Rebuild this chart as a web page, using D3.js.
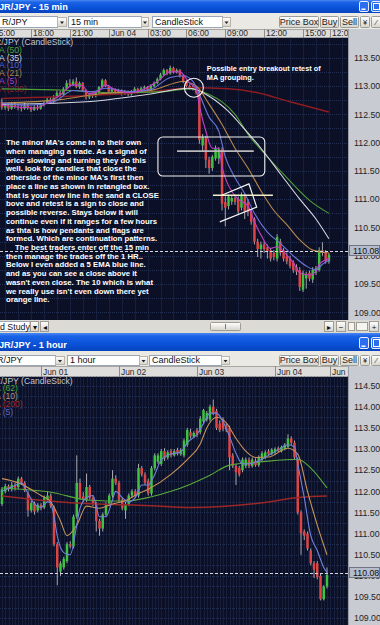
<!DOCTYPE html>
<html><head><meta charset="utf-8">
<script src="https://cdn.jsdelivr.net/npm/d3@7"></script>
<style>html,body{margin:0;padding:0;background:#d4d0c8;overflow:hidden}svg{display:block}</style>
</head><body><svg id="c" width="380" height="625"></svg>
<script>
// ---------------- DATA ----------------
// 15-min chart candles [open, high, low, close], starting Jun 03 15:45
const topCandles = [
[112.72,112.78,112.58,112.62],[112.62,112.70,112.58,112.66],[112.66,112.70,112.56,112.60],[112.60,112.72,112.58,112.68],
[112.68,112.72,112.60,112.64],[112.64,112.68,112.57,112.62],[112.62,112.66,112.55,112.60],[112.60,112.70,112.58,112.65],
[112.65,112.68,112.58,112.62],[112.62,112.64,112.54,112.58],[112.58,112.66,112.56,112.63],[112.63,112.67,112.57,112.60],
[112.60,112.70,112.58,112.66],[112.66,112.74,112.64,112.70],[112.70,112.80,112.68,112.76],[112.76,112.80,112.68,112.72],
[112.72,112.84,112.70,112.80],[112.80,112.92,112.78,112.88],[112.88,112.92,112.80,112.85],[112.85,112.98,112.83,112.95],
[112.95,113.10,112.92,113.05],[113.05,113.12,112.98,113.02],[113.02,113.12,113.00,113.08],[113.08,113.15,112.96,112.98],
[112.98,113.08,112.95,113.05],[113.05,113.07,112.90,112.92],[112.92,112.94,112.76,112.80],[112.80,112.88,112.77,112.85],
[112.85,112.88,112.79,112.82],[112.82,112.90,112.80,112.88],[112.88,113.00,112.86,112.98],[112.98,113.13,112.96,113.10],
[113.10,113.12,112.98,113.00],[113.00,113.02,112.88,112.90],[112.90,112.97,112.87,112.94],[112.94,112.96,112.85,112.88],
[112.88,112.95,112.86,112.92],[112.92,112.94,112.83,112.86],[112.86,112.93,112.84,112.90],[112.90,112.92,112.82,112.85],
[112.85,112.93,112.83,112.90],[112.90,112.98,112.88,112.95],[112.95,112.97,112.87,112.90],[112.90,112.99,112.88,112.96],
[112.96,113.01,112.93,112.98],[112.98,113.00,112.90,112.93],[112.93,113.03,112.91,113.00],[113.00,113.08,112.98,113.05],
[113.05,113.15,113.03,113.12],[113.12,113.23,113.10,113.20],[113.20,113.31,113.18,113.28],[113.28,113.30,113.19,113.22],
[113.22,113.36,113.20,113.32],[113.32,113.34,113.22,113.25],[113.25,113.31,113.22,113.28],[113.28,113.30,113.15,113.18],
[113.18,113.20,113.05,113.08],[113.08,113.10,112.97,113.00],[113.00,113.03,112.93,112.96],[112.96,113.02,112.92,112.98],
[112.98,113.00,112.85,112.88],[112.88,112.90,111.98,112.05],[111.95,112.15,111.85,112.10],[112.08,112.12,111.55,111.70],
[111.70,111.75,111.45,111.55],[111.55,111.78,111.50,111.75],[111.72,111.95,111.68,111.90],[111.72,111.92,111.62,111.88],
[111.88,111.92,110.80,110.92],[110.95,111.05,110.52,110.85],[110.88,111.08,110.82,111.05],[110.96,111.06,110.90,111.02],
[111.02,111.08,110.90,110.95],[111.00,111.05,110.72,110.78],[110.85,111.12,110.80,111.08],[111.05,111.10,110.65,110.78],
[110.95,111.00,110.70,110.77],[110.77,110.82,110.55,110.60],[110.65,110.68,110.20,110.25],[110.25,110.30,109.98,110.12],
[110.12,110.25,109.95,110.20],[110.20,110.26,110.05,110.12],[110.15,110.20,109.95,110.08],[110.10,110.14,109.90,109.95],
[110.05,110.10,109.92,109.98],[109.95,110.38,109.90,110.33],[110.25,110.30,110.00,110.05],[110.10,110.14,109.90,109.95],
[110.00,110.06,109.85,109.90],[109.95,110.00,109.78,109.82],[109.88,109.92,109.70,109.75],[109.80,109.85,109.66,109.72],
[109.75,109.80,109.38,109.45],[109.40,109.74,109.36,109.70],[109.60,109.72,109.42,109.68],[109.70,109.74,109.55,109.60],
[109.58,109.80,109.52,109.75],[109.70,109.82,109.66,109.78],[109.75,110.15,109.72,110.10],[110.10,110.24,110.00,110.05],
[110.05,110.10,109.86,109.90],[109.90,110.05,109.86,110.02]
];
// moving averages of the 15-min chart: [candle index, price]
const topMA200 = [[0,112.78],[30,112.84],[46,112.90],[59,112.97],[70,112.95],[79,112.88],[89,112.72],[101,112.54]];
const topMA50 = [[0,112.95],[18,112.93],[36,112.88],[50,112.90],[58,112.95],[64,112.85],[68,112.72],[72,112.50],[76,112.15],[82,111.75],[88,111.38],[95,110.98],[101,110.75]];
const topMA35 = [[0,112.68],[18,112.70],[30,112.74],[46,112.86],[58,112.96],[64,112.82],[70,112.55],[74,112.30],[80,111.90],[86,111.45],[92,111.00],[97,110.65],[101,110.30]];
const topMA21 = [[0,112.70],[18,112.76],[30,112.86],[46,112.92],[56,113.08],[60,113.00],[64,112.68],[68,112.32],[72,111.90],[76,111.55],[80,111.15],[84,110.80],[88,110.55],[92,110.28],[96,110.10],[101,110.05]];
const topMA10 = [[0,112.70],[8,112.66],[16,112.72],[22,112.92],[28,112.90],[32,112.96],[40,112.90],[46,112.94],[52,113.15],[56,113.18],[59,113.08],[61,112.85],[64,112.45],[67,112.20],[69,111.75],[72,111.38],[75,111.10],[78,110.75],[82,110.42],[86,110.22],[90,110.00],[94,109.82],[97,109.75],[99,109.85],[101,109.92]];
const topMA5 = [[0,112.66],[5,112.63],[10,112.61],[14,112.70],[18,112.84],[22,113.02],[25,113.00],[27,112.86],[30,112.92],[32,113.02],[35,112.93],[40,112.88],[44,112.95],[48,113.08],[52,113.25],[55,113.25],[58,113.05],[60,112.95],[61,112.65],[63,112.20],[65,111.90],[67,111.90],[68,111.57],[70,111.24],[73,111.00],[76,110.88],[78,110.60],[80,110.37],[83,110.13],[85,110.16],[88,110.01],[90,109.88],[92,109.70],[95,109.66],[97,109.72],[98,109.85],[101,109.95]];
const topTickLabels = ["15:00","18:00","21:00","Jun 04","03:00","06:00","09:00","12:00","15:00","12:00"];
const topTickTimes = [[2007,5,3,15,0],[2007,5,3,18,0],[2007,5,3,21,0],[2007,5,4,0,0],[2007,5,4,3,0],[2007,5,4,6,0],[2007,5,4,9,0],[2007,5,4,12,0],[2007,5,4,15,0],[2007,5,4,17,5]];
const topPriceTicks = [113.5,113.0,112.5,112.0,111.5,111.0,110.5,110.0,109.5,109.0];

// 1-hour chart candles [open, high, low, close], starting May 31 12:00
const botCandles = [
[111.70,112.10,111.65,112.05],[112.00,112.18,111.95,112.12],[112.12,112.16,112.00,112.05],[112.05,112.22,112.00,112.15],
[112.15,112.20,112.02,112.08],[112.10,112.35,112.05,112.30],[112.30,112.34,112.15,112.20],[112.20,112.24,111.98,112.02],
[111.95,112.00,111.40,111.55],[111.55,111.78,111.50,111.72],[111.72,111.76,111.45,111.52],[111.55,111.72,111.50,111.68],
[111.68,111.72,111.55,111.60],[111.62,111.90,111.58,111.85],[111.80,112.00,111.76,111.90],[111.90,111.95,111.60,111.65],
[111.60,111.66,110.70,110.75],[110.75,110.80,109.78,110.20],[110.10,110.35,110.00,110.30],[110.20,110.45,110.15,110.40],
[110.35,110.80,110.30,110.75],[110.75,110.82,110.65,110.70],[110.70,111.45,110.65,111.40],[111.40,112.85,111.35,112.20],
[112.20,112.30,111.80,111.85],[111.88,111.98,111.75,111.80],[111.80,112.42,111.75,112.10],[112.10,112.15,111.80,111.85],
[111.85,111.90,111.65,111.70],[111.70,111.75,111.05,111.30],[111.30,111.35,110.95,111.12],[111.12,111.50,111.05,111.45],
[111.45,111.75,111.40,111.70],[111.70,111.95,111.65,111.90],[111.90,112.50,111.85,112.30],[112.30,112.38,112.15,112.20],
[112.20,112.25,111.75,111.80],[111.80,111.85,111.55,111.60],[111.55,111.75,111.35,111.70],[111.70,111.95,111.65,111.90],
[111.90,112.05,111.85,112.00],[112.00,112.05,111.85,111.90],[111.90,112.65,111.85,112.55],[112.55,112.60,112.35,112.40],
[112.40,112.45,112.15,112.20],[112.25,112.30,111.90,111.95],[111.95,112.60,111.90,112.55],[112.55,112.90,112.50,112.85],
[112.70,112.90,112.65,112.85],[112.65,113.00,112.60,112.95],[112.95,113.02,112.72,112.78],[112.80,112.97,112.75,112.92],
[112.95,113.00,112.80,112.85],[112.85,113.00,112.82,112.95],[112.98,113.03,112.85,112.90],[112.88,113.02,112.84,112.98],
[112.85,113.25,112.80,113.20],[113.10,113.50,113.05,113.45],[113.40,113.48,113.25,113.30],[113.30,113.42,113.26,113.38],
[113.45,113.50,113.28,113.33],[113.40,113.78,113.35,113.72],[113.65,113.95,113.60,113.92],[113.70,113.90,113.65,113.85],
[113.70,114.05,113.65,114.00],[114.00,114.17,113.80,113.85],[113.90,113.95,113.45,113.50],[113.60,113.68,113.40,113.45],
[113.70,113.75,113.42,113.48],[113.55,113.60,113.40,113.45],[113.50,113.55,112.50,112.80],[112.85,112.90,112.55,112.60],
[112.60,112.65,112.15,112.45],[112.55,112.60,112.35,112.40],[112.50,112.80,112.45,112.75],[112.60,112.80,112.55,112.75],
[112.75,112.80,112.55,112.60],[112.60,112.80,112.56,112.75],[112.72,112.78,112.58,112.62],[112.62,112.85,112.58,112.80],
[112.75,112.95,112.70,112.90],[112.80,112.97,112.76,112.92],[112.95,113.00,112.84,112.88],[112.88,113.02,112.85,112.98],
[112.92,113.04,112.88,113.00],[113.02,113.06,112.92,112.95],[112.95,113.08,112.92,113.05],[113.00,113.14,112.97,113.10],
[113.05,113.35,113.02,113.25],[113.25,113.30,113.10,113.15],[113.15,113.20,112.75,112.80],[112.75,112.80,111.45,111.50],
[111.50,111.55,110.50,111.00],[111.05,111.10,110.85,110.95],[111.00,111.05,110.60,110.65],[110.60,110.65,110.25,110.30],
[110.30,110.35,109.95,110.15],[110.30,110.35,109.92,109.97],[110.00,110.05,109.42,109.45],[109.45,109.78,109.42,109.75],
[109.75,110.20,109.70,110.02]
];
const botMA200 = [[0,111.89],[18,111.75],[38,111.68],[46,111.66],[58,111.62],[79,111.72],[92,111.86],[100,111.89]];
const botMA62 = [[0,112.08],[15,111.98],[27,111.79],[38,111.77],[46,111.87],[52,112.00],[58,112.17],[64,112.38],[70,112.62],[79,112.69],[91,112.76],[95,112.55],[100,112.08]];
const botMA10 = [[0,112.30],[5,112.20],[12,111.90],[15,111.75],[18,111.30],[20,110.95],[23,111.20],[26,111.65],[30,111.60],[34,111.70],[38,111.78],[42,111.95],[45,112.05],[52,112.40],[57,112.75],[61,113.12],[63,113.50],[66,113.75],[69,113.62],[72,113.25],[75,112.95],[78,112.80],[82,112.81],[88,113.02],[91,112.88],[94,112.00],[97,111.20],[100,110.50]];
const botMA5 = [[0,112.00],[3,112.10],[6,112.20],[8,111.95],[10,111.70],[12,111.62],[14,111.75],[15,111.72],[16,111.40],[17,110.95],[19,110.55],[21,110.50],[23,111.20],[24,111.60],[26,111.85],[28,111.90],[30,111.40],[32,111.40],[34,111.80],[35,112.00],[37,111.85],[39,111.75],[41,111.85],[43,112.15],[45,112.15],[47,112.40],[49,112.75],[52,112.88],[55,112.93],[57,113.15],[60,113.35],[62,113.60],[64,113.85],[66,113.85],[68,113.65],[70,113.30],[72,112.90],[74,112.65],[76,112.65],[79,112.72],[82,112.85],[85,112.98],[88,113.10],[90,113.05],[91,112.65],[93,111.85],[95,110.95],[97,110.60],[99,110.20],[100,110.08]];
const botTickLabels = ["Jun 01","Jun 02","Jun 03","Jun 04","Jun 05"];
const botTickTimes = [[2007,5,1,0,0],[2007,5,2,0,0],[2007,5,3,0,0],[2007,5,4,0,0],[2007,5,4,17,0]];
const botPriceTicks = [114.5,114.0,113.5,113.0,112.5,112.0,111.5,111.0,110.5,110.0,109.5,109.0];
const lastPrice = 110.08;

const notes = [
"The minor MA's come in to their own",
"when managing a trade. As a signal of",
"price slowing and turning they do this",
"well. look for candles that close the",
"otherside of the minor MA's first then",
"place a line as shown in retangled box.",
"that is your new line in the sand a CLOSE",
"bove and retest is a sign to close and",
"possible reverse. Stays below it will",
"continue even if it ranges for a few hours",
"as thta is how pendants and flags are",
"formed. Which are continuation patterns.",
"The best traders enter off the 15 min",
"then manage the trades off the 1 HR..",
"Below I even added a 5 EMA blue line.",
"and as you can see a close above it",
"wasn't even close. The 10 which is what",
"we really use isn't even down there yet",
"orange line."
];
const calloutText = ["Possible entry breakout retest of","MA grouping."];

// ---------------- DRAWING ----------------
const D = a => new Date(a[0],a[1],a[2],a[3],a[4]);
const svg = d3.select('#c');
const defs = svg.append('defs');
const grad = defs.append('linearGradient').attr('id','tb').attr('x1',0).attr('y1',0).attr('x2',0).attr('y2',1);
[[0,'#4a88f2'],[0.18,'#1a62e6'],[0.6,'#0a52d8'],[1,'#0744bc']].forEach(([o,c])=>grad.append('stop').attr('offset',o).attr('stop-color',c));
const bgrad = defs.append('linearGradient').attr('id','btn').attr('x1',0).attr('y1',0).attr('x2',0).attr('y2',1);
[[0,'#ffffff'],[1,'#d6d4cc']].forEach(([o,c])=>bgrad.append('stop').attr('offset',o).attr('stop-color',c));

svg.append('rect').attr('width',380).attr('height',625).attr('fill','#d4d0c8');

const UI = '"Liberation Sans", Arial, sans-serif';

function titleBar(y, h, label, base, by, bh){
  svg.append('rect').attr('x',0).attr('y',y).attr('width',380).attr('height',h).attr('fill','url(#tb)');
  svg.append('text').attr('x',-1).attr('y',base).text(label)
    .attr('fill','#fff').attr('font-family',UI).attr('font-weight','bold').attr('font-size',9.2);
  [359,371].forEach((bx,k)=>{
    svg.append('rect').attr('x',bx+0.5).attr('y',by+0.5).attr('width',9).attr('height',bh)
      .attr('rx',1.5).attr('fill','#2c6ef0').attr('stroke','#e8eefc').attr('stroke-width',1);
    if(k===0) svg.append('rect').attr('x',bx+2.5).attr('y',by+bh-2.5).attr('width',4).attr('height',1.5).attr('fill','#fff');
    else svg.append('rect').attr('x',bx+2.5).attr('y',by+2.5).attr('width',6).attr('height',bh-4).attr('fill','none').attr('stroke','#fff').attr('stroke-width',1);
  });
}
function toolbar(y, h, by, bh, boxes){
  svg.append('rect').attr('x',0).attr('y',y).attr('width',380).attr('height',h).attr('fill','#ebe9e3');
  boxes.forEach(b=>{
    svg.append('rect').attr('x',b[0]+0.5).attr('y',by+0.5).attr('width',b[1]-b[0]).attr('height',bh)
      .attr('fill','#fff').attr('stroke','#9aa6b8');
    svg.append('text').attr('x',b[0]+3+(b[4]||0)).attr('y',by+bh-2).text(b[3])
      .attr('font-family',UI).attr('font-size',9).attr('fill','#111');
    svg.append('rect').attr('x',b[1]+0.5).attr('y',by+1.5).attr('width',b[2]-b[1]-1).attr('height',bh-2)
      .attr('fill','url(#btn)').attr('stroke','#b8b4a8');
    const cx=(b[1]+b[2])/2, cy=by+bh/2+1;
    svg.append('path').attr('d',`M${cx-2},${cy-1}L${cx+2},${cy-1}L${cx},${cy+1.5}Z`).attr('fill','#222');
  });
  const btns=[[279,318,'Price Box'],[320,338,'Buy'],[340,358,'Sell'],[360,369,'¥'],[371,381,'⁄']];
  btns.forEach(b=>{
    svg.append('rect').attr('x',b[0]+0.5).attr('y',by+0.5).attr('width',b[1]-b[0]).attr('height',bh)
      .attr('rx',1).attr('fill','url(#btn)').attr('stroke','#9d9d97');
    svg.append('text').attr('x',(b[0]+b[1])/2+0.5).attr('y',by+bh-2).attr('text-anchor','middle').text(b[2])
      .attr('font-family',UI).attr('font-size',b[2].length>1?9:7.5).attr('fill','#222');
  });
}

function panel(o){
  const {x, y, candles, t0, stepMin, plot, mas, legend, tickLabels, tickTimes, priceTicks, gridStepMin, clipId} = o;
  const timeOf = i => new Date(t0.getTime() + i*stepMin*60000);
  defs.append('clipPath').attr('id',clipId).append('rect')
    .attr('x',plot.x0).attr('y',plot.y0).attr('width',plot.x1-plot.x0).attr('height',plot.y1-plot.y0);
  // header
  svg.append('rect').attr('x',0).attr('y',o.hy).attr('width',380).attr('height',plot.y0-o.hy).attr('fill','#dedddb');
  svg.append('line').attr('x1',0).attr('x2',348).attr('y1',o.hy+0.5).attr('y2',o.hy+0.5).attr('stroke','#a8a6a0');
  const hg = svg.append('g').attr('clip-path',`url(#${clipId}h)`);
  defs.append('clipPath').attr('id',clipId+'h').append('rect').attr('x',0).attr('y',o.hy).attr('width',348).attr('height',plot.y0-o.hy);
  tickTimes.forEach((tt,k)=>{
    const tx = Math.round(x(D(tt)))+0.5;
    hg.append('line').attr('x1',tx).attr('x2',tx).attr('y1',o.hy).attr('y2',plot.y0).attr('stroke','#8e8c88');
    hg.append('text').attr('x',tx+1.5).attr('y',plot.y0-1.8).text(tickLabels[k])
      .attr('font-family',UI).attr('font-size',8.4).attr('fill','#2a2a2a');
  });
  // price axis
  svg.append('rect').attr('x',348).attr('y',o.hy).attr('width',32).attr('height',plot.y1-o.hy).attr('fill','#c9cbd3');
  svg.append('line').attr('x1',348.5).attr('x2',348.5).attr('y1',o.hy).attr('y2',plot.y1).attr('stroke','#9a9ca8');
  priceTicks.forEach(p=>{
    svg.append('text').attr('x',354).attr('y',y(p)+3.2).text(p.toFixed(2))
      .attr('font-family',UI).attr('font-size',8.8).attr('fill','#1e1e1e');
  });
  // plot
  const g = svg.append('g').attr('clip-path',`url(#${clipId})`);
  g.append('rect').attr('x',plot.x0).attr('y',plot.y0).attr('width',plot.x1-plot.x0).attr('height',plot.y1-plot.y0).attr('fill','#0b1027');
  const [pmin,pmax] = y.domain();
  const hp = d3.range(Math.floor(pmin*4)/4-1, pmax+1, 0.25);
  g.selectAll('line.hg').data(hp).join('line').attr('class','hg')
    .attr('x1',plot.x0).attr('x2',plot.x1).attr('y1',d=>Math.round(y(d))+0.5).attr('y2',d=>Math.round(y(d))+0.5)
    .attr('stroke','#222e52').attr('stroke-dasharray','1,1');
  const vt = d3.timeMinute.every(gridStepMin).range(x.invert(plot.x0-20), x.invert(plot.x1+20));
  g.selectAll('line.vg').data(vt).join('line').attr('class','vg')
    .attr('x1',d=>Math.round(x(d))+0.5).attr('x2',d=>Math.round(x(d))+0.5).attr('y1',plot.y0).attr('y2',plot.y1)
    .attr('stroke','#222e52').attr('stroke-dasharray','1,1');
  // legend
  legend.forEach((l,k)=>{
    g.append('text').attr('x',l[2]).attr('y',o.legendY + k*o.legendDy).text(l[0])
      .attr('font-family',UI).attr('font-size',8.6).attr('fill',l[1]);
  });
  // candles
  const cw = o.cw;
  const cg = g.selectAll('g.cd').data(candles).join('g').attr('class','cd');
  cg.append('line').attr('x1',(d,i)=>x(timeOf(i))).attr('x2',(d,i)=>x(timeOf(i)))
    .attr('y1',d=>y(d[1])).attr('y2',d=>y(d[2])).attr('stroke','#b4b6bc').attr('stroke-width',0.9);
  cg.append('rect').attr('x',(d,i)=>x(timeOf(i))-cw/2).attr('width',cw)
    .attr('y',d=>y(Math.max(d[0],d[3]))).attr('height',d=>Math.max(1,Math.abs(y(d[0])-y(d[3]))))
    .attr('fill',d=>d[3]>=d[0]?'#3fc23f':'#dc4545');
  // moving averages
  const line = d3.line().x(d=>x(timeOf(d[0]))).y(d=>y(d[1])).curve(d3.curveMonotoneX);
  mas.forEach(m=>{
    g.append('path').attr('d',line(m.data)).attr('fill','none').attr('stroke',m.color).attr('stroke-width',m.w||1);
  });
  o.extra && o.extra(g, timeOf);
  // last price line
  g.append('line').attr('x1',plot.x0).attr('x2',plot.x1).attr('y1',Math.round(y(lastPrice))+0.5).attr('y2',Math.round(y(lastPrice))+0.5)
    .attr('stroke','#d8d8e0').attr('stroke-dasharray','3,2');
  const ly = Math.round(y(lastPrice));
  svg.append('rect').attr('x',349.5).attr('y',ly-5.5).attr('width',30).attr('height',10).attr('fill','#b6bccb').attr('stroke','#6f7484');
  svg.append('text').attr('x',353).attr('y',ly+3).text(lastPrice.toFixed(2))
    .attr('font-family',UI).attr('font-size',8.8).attr('fill','#111');
  return timeOf;
}

// ---- TOP WINDOW ----
titleBar(0, 13, 'JR/JPY - 15 min', 9.5, 1, 10);
toolbar(13, 16, 16, 11, [[-1,57,67,'R/JPY',0],[68,141,149,'15 min'],[152,222,231,'CandleStick']]);
const xTop = d3.scaleTime().domain([new Date(2007,5,3,15,0), new Date(2007,5,4,18,0)]).range([-7.86, 341.86]);
const yTop = d3.scaleLinear().domain([109,113.5]).range([312.4, 57.7]);
panel({
  x:xTop, y:yTop, candles:topCandles, t0:new Date(2007,5,3,15,45), stepMin:15, clipId:'cpT',
  hy:29, plot:{x0:0,x1:348,y0:37.5,y1:320}, cw:2.5, gridStepMin:60,
  tickLabels:topTickLabels, tickTimes:topTickTimes, priceTicks:topPriceTicks,
  legendY:45, legendDy:7.8,
  legend:[['R/JPY (CandleStick)','#c4c6cc',-5],['A (50)','#4fa63a',-1],['A (35)','#d6d6dc',-1],['A (10)','#5a64d0',-1],['A (21)','#b88448',-1],['A (5)','#b040c8',-1],['A (200)','#8e1e22',-1]],
  mas:[
    {data:topMA200,color:'#8e1c22',w:1.5},
    {data:topMA50,color:'#4f9e36',w:1.1},
    {data:topMA35,color:'#d8d8e2',w:1.1},
    {data:topMA21,color:'#b8884c',w:1.1},
    {data:topMA10,color:'#6c74dc',w:1.1},
    {data:topMA5,color:'#c23ec8',w:1.1}
  ],
  extra:(g,timeOf)=>{
    const X=i=>xTop(timeOf(i)), Y=p=>yTop(p);
    g.append('rect').attr('x',X(48.2)).attr('y',Y(112.10)).attr('width',X(81.2)-X(48.2)).attr('height',Y(111.41)-Y(112.10))
      .attr('rx',5).attr('fill','none').attr('stroke','#f2f2f2').attr('stroke-width',1.1);
    g.append('line').attr('x1',X(54.1)).attr('x2',X(77.8)).attr('y1',Y(111.85)).attr('y2',Y(111.85))
      .attr('stroke','#b8b8bc').attr('stroke-width',1.6);
    g.append('path').attr('d',`M${X(67.9)},${Y(111.07)}L${X(76.3)},${Y(111.27)}L${X(78.7)},${Y(110.86)}L${X(67.3)},${Y(110.60)}`)
      .attr('fill','none').attr('stroke','#f4f4f4').attr('stroke-width',1.2);
    g.append('line').attr('x1',X(65.2)).attr('x2',X(83.7)).attr('y1',Y(111.07)).attr('y2',Y(111.07))
      .attr('stroke','#f2f0c8').attr('stroke-width',1.5);
    g.append('circle').attr('cx',X(59.3)).attr('cy',Y(112.97)).attr('r',9.5).attr('fill','none').attr('stroke','#f4f4f4').attr('stroke-width',1.1);
    const NF='"Liberation Sans", Arial, sans-serif';
    const tmp = g.append('text').attr('font-family',NF).attr('font-weight','bold').attr('font-size',10).text(calloutText[0]);
    const cfs = 10*114/tmp.node().getComputedTextLength(); tmp.remove();
    calloutText.forEach((t,k)=>g.append('text').attr('x',X(63.3)).attr('y',Y(113.265)+k*9).text(t)
      .attr('font-family',NF).attr('font-weight','bold').attr('font-size',cfs).attr('fill','#fff'));
    const tmp2 = g.append('text').attr('font-family',NF).attr('font-weight','bold').attr('font-size',10).text(notes[6]);
    const nfs = 10*153/tmp2.node().getComputedTextLength(); tmp2.remove();
    notes.forEach((t,k)=>g.append('text').attr('x',k===12?15:6).attr('y',145.3+k*8.72).text(t)
      .attr('font-family',NF).attr('font-weight','bold').attr('font-size',nfs).attr('fill','#fff'));
  }
});

// ---- scroll row ----
svg.append('rect').attr('x',0).attr('y',320).attr('width',380).attr('height',13).attr('fill','#dcdad4');
svg.append('rect').attr('x',-1).attr('y',321.5).attr('width',31).attr('height',10).attr('fill','#fff').attr('stroke','#9aa6b8');
svg.append('text').attr('x',0).attr('y',329.8).text('d Study').attr('font-family',UI).attr('font-size',8.8).attr('fill','#111');
[[30.5,38.5,'▾'],[40.5,48.5,'◂'],[324.5,333.5,'▸'],[336.5,345.5,'−'],[369.5,378.5,'+']].forEach(b=>{
  svg.append('rect').attr('x',b[0]).attr('y',321.5).attr('width',b[1]-b[0]).attr('height',10).attr('fill','url(#btn)').attr('stroke','#a09c94');
  svg.append('text').attr('x',(b[0]+b[1])/2).attr('y',329.5).attr('text-anchor','middle').text(b[2]).attr('font-family',UI).attr('font-size',8).attr('fill','#111');
});
svg.append('rect').attr('x',210.5).attr('y',322.5).attr('width',30).attr('height',8).attr('rx',1).attr('fill','url(#btn)').attr('stroke','#a09c94');
svg.append('line').attr('x1',225.5).attr('x2',225.5).attr('y1',324).attr('y2',329).attr('stroke','#777');
svg.append('rect').attr('x',348.5).attr('y',322.5).attr('width',6).attr('height',8).attr('fill','#f4f4f0').attr('stroke','#a09c94');
svg.append('rect').attr('x',356.5).attr('y',322.5).attr('width',11).attr('height',8).attr('fill','#f4f4f0').attr('stroke','#a09c94');

// ---- BOTTOM WINDOW ----
titleBar(333, 18, 'JR/JPY - 1 hour', 347.5, 337, 11);
toolbar(351, 15, 355, 10, [[-1,55,65,'R/JPY',-5],[67,139,148,'1 hour'],[149,221,230,'CandleStick']]);
const xBot = d3.scaleTime().domain([new Date(2007,5,1,0,0), new Date(2007,5,4,0,0)]).range([41, 275]);
const yBot = d3.scaleLinear().domain([109,114.5]).range([618.2, 385.6]);
panel({
  x:xBot, y:yBot, candles:botCandles, t0:new Date(2007,4,31,12,0), stepMin:60, clipId:'cpB',
  hy:366, plot:{x0:0,x1:348,y0:376.5,y1:625}, cw:2.5, gridStepMin:240,
  tickLabels:botTickLabels, tickTimes:botTickTimes, priceTicks:botPriceTicks,
  legendY:383.5, legendDy:7.9,
  legend:[['R/JPY (CandleStick)','#c4c6cc',-5.5],['A (62)','#4fa63a',-5],['A (10)','#a89a88',-5],['A (200)','#a02a2a',-5],['A (5)','#5a68c4',-5]],
  mas:[
    {data:botMA200,color:'#9a2628',w:1.5},
    {data:botMA62,color:'#58a83a',w:1.1},
    {data:botMA10,color:'#c8925a',w:1.1},
    {data:botMA5,color:'#7282dc',w:1.1}
  ]
});
</script></body></html>
